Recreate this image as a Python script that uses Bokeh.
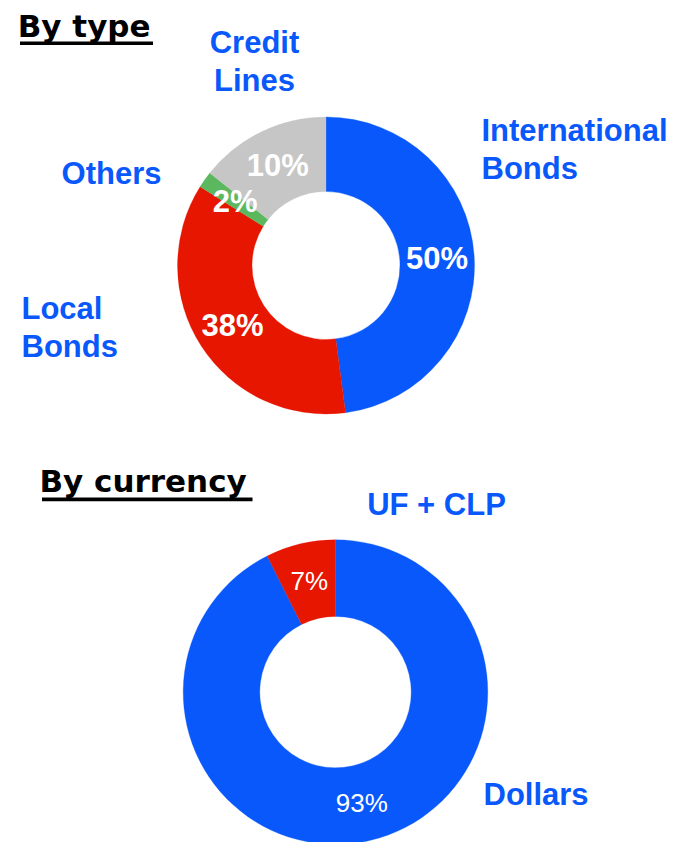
import numpy as np
from bokeh.plotting import figure
from bokeh.models import Range1d, Label, BoxAnnotation, ColumnDataSource
from bokeh.core.properties import value
from bokeh.embed import file_html
from bokeh.resources import INLINE

# ---------------- data ----------------
type_categories = ["International Bonds", "Local Bonds", "Others", "Credit Lines"]
type_shares = [47.9, 36.0, 1.8, 14.3]          # share of the ring as drawn
type_pct_labels = ["50%", "38%", "2%", "10%"]   # printed labels
type_colors = ["#0958fb", "#e61600", "#5cb85f", "#c6c6c6"]

currency_categories = ["Dollars", "UF + CLP"]
currency_shares = [92.6, 7.4]
currency_pct_labels = ["93%", "7%"]
currency_colors = ["#0958fb", "#e61600"]

# ---------------- layout ----------------
W, H = 679, 842
BLUE = "#0958fb"
ARIAL = "Liberation Sans"


def fx(rx):
    return rx


def fy(ry):
    return H - ry


p = figure(width=W, height=H, output_backend="svg", toolbar_location=None,
           x_range=Range1d(0, W), y_range=Range1d(0, H),
           x_axis_location=None, y_axis_location=None, min_border=0,
           outline_line_color=None, background_fill_color="white",
           border_fill_color="white")
p.grid.visible = False


def donut(cx, cy, r_in, r_out, shares, colors, pct_labels, font_style, font_size):
    shares = np.asarray(shares, dtype=float)
    frac = shares / shares.sum()
    cum = np.concatenate([[0.0], np.cumsum(frac)])
    start = np.pi / 2 - 2 * np.pi * cum[:-1]
    end = np.pi / 2 - 2 * np.pi * cum[1:]
    mid = (start + end) / 2
    r_mid = (r_in + r_out) / 2
    src = ColumnDataSource(dict(
        start=start, end=end, color=colors,
        lx=cx + r_mid * np.cos(mid), ly=cy + r_mid * np.sin(mid),
        label=pct_labels))
    p.annular_wedge(x=cx, y=cy, inner_radius=r_in, outer_radius=r_out,
                    start_angle="start", end_angle="end", direction="clock",
                    fill_color="color", line_color="color", line_width=0.3,
                    source=src)
    p.text(x="lx", y="ly", text="label", source=src,
           text_align="center", text_baseline="middle",
           text_font=value(ARIAL), text_font_style=font_style,
           text_font_size=font_size, text_color="white")


# top donut (by type)
donut(fx(325.5), fy(265.0), 74.0, 148.5, type_shares, type_colors,
      type_pct_labels, "bold", "31px")
# bottom donut (by currency)
donut(fx(335.0), fy(691.6), 75.7, 152.3, currency_shares, currency_colors,
      currency_pct_labels, "normal", "26px")


def add_label(text, rx, ry_baseline, align, size=31, color=BLUE,
              font=ARIAL, line_gap=38):
    for i, line in enumerate(text.split("\n")):
        # place by the middle of the em box (baseline - 0.35 em)
        ry_mid = ry_baseline + i * line_gap - 0.35 * size
        p.add_layout(Label(x=fx(rx), y=fy(ry_mid),
                           text=line, text_align=align,
                           text_baseline="middle", text_font=font,
                           text_font_style="bold", text_font_size=f"{size}px",
                           text_color=color))


# titles with underline
add_label("By type", 17.2, 36.0, "left", size=31, color="black",
          font="DejaVu Sans")
p.add_layout(BoxAnnotation(left=fx(19.5), right=fx(152.5), top=fy(41.0),
                           bottom=fy(44.5), fill_color="black", fill_alpha=1.0,
                           line_color=None))
add_label("By currency", 38.9, 491.0, "left", size=31, color="black",
          font="DejaVu Sans")
p.add_layout(BoxAnnotation(left=fx(41.5), right=fx(252.0), top=fy(497.0),
                           bottom=fy(500.8), fill_color="black", fill_alpha=1.0,
                           line_color=None))

# category labels
add_label("International\nBonds", 481.0, 141.0, "left")
add_label("Local\nBonds", 21.0, 318.5, "left")
add_label("Others", 111.0, 184.0, "center")
add_label("Credit\nLines", 254.0, 52.7, "center")
add_label("UF + CLP", 436.0, 515.0, "center")
add_label("Dollars", 483.0, 805.0, "left")

open("out.html", "w").write(file_html(p, INLINE))
